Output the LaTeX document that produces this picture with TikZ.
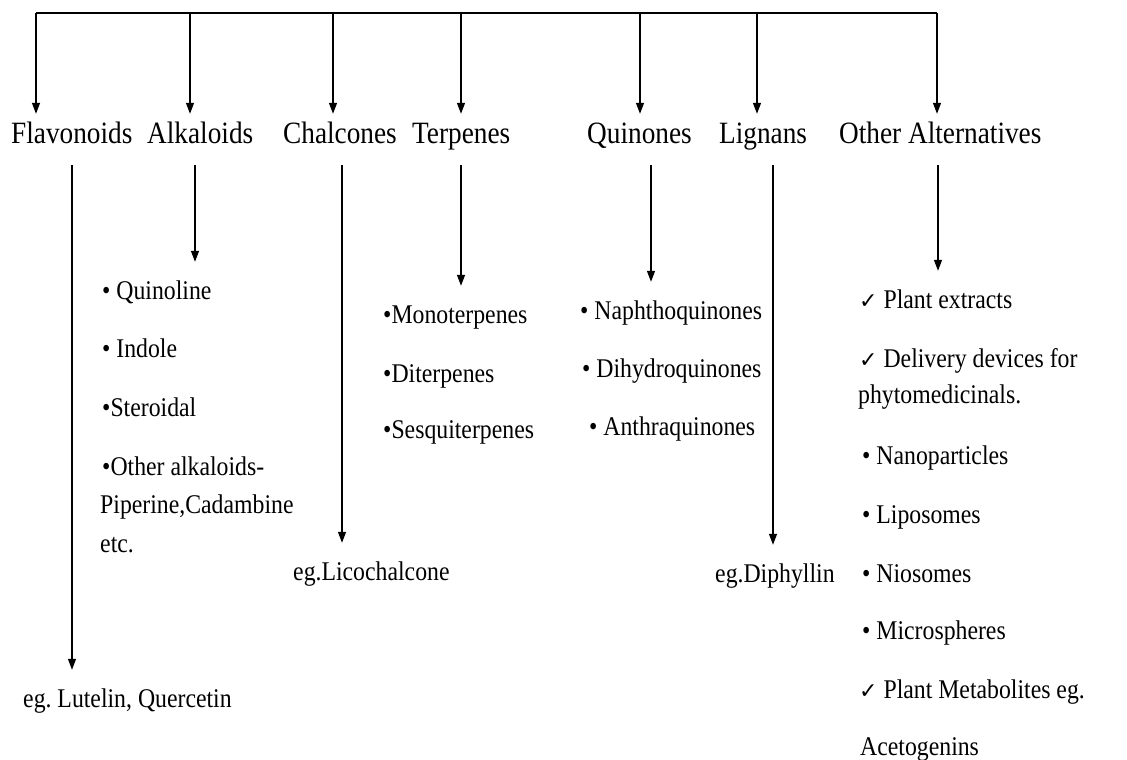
\documentclass[tikz,border=0pt]{standalone}
\usepackage{fontspec}
\setmainfont{Liberation Serif}[FakeStretch=0.88]
\newfontfamily\symfont{DejaVu Sans}
\usepackage{tikz}
\usetikzlibrary{arrows.meta, positioning, calc}
\newcommand{\chk}{{\symfont\fontsize{22}{22}\selectfont ✓}}
\frenchspacing

\begin{document}
\begin{tikzpicture}[
				x=1pt, y=-1pt,
				head/.style={anchor=base west, inner sep=0pt, font={\fontsize{31}{37}\selectfont},
					text height=22pt, text depth=7pt},
				item/.style={anchor=base west, inner sep=0pt, font={\fontsize{27}{32}\selectfont},
					text height=19pt, text depth=6pt},
				arrow/.style={-{Triangle[length=11pt, width=8pt]}, line width=1.3pt, color=black},
				drop/.style={arrow, shorten <=15pt, shorten >=18pt}
				]
				\useasboundingbox (0,0) rectangle (1127,760);
				
				% Headings
				\node[head] (flav) at (11,143) {Flavonoids};
				\node[head] (alk) at (147,143) {Alkaloids};
				\node[head] (chal) at (283,143) {Chalcones};
				\node[head] (terp) at (412,143) {Terpenes};
				\node[head] (quin) at (587,143) {Quinones};
				\node[head] (lig) at (719,143) {Lignans};
				\node[head] (other) at (839,143) {Other Alternatives};
				
				% Alkaloids
				\node[item] (alk1) at (102,299) {• Quinoline};
				\node[item] (alk2) at (102,357) {• Indole};
				\node[item] (alk3) at (102,416) {•Steroidal};
				\node[item] (alk4) at (102,475) {•Other alkaloids-};
				\node[item] (alk4b) at (100,513) {Piperine,Cadambine};
				\node[item] (alk4c) at (100,552) {etc.};
				
				% Terpenes
				\node[item] (terp1) at (383,323) {•Monoterpenes};
				\node[item] (terp2) at (383,382) {•Diterpenes};
				\node[item] (terp3) at (383,438) {•Sesquiterpenes};
				
				% Quinones
				\node[item] (quin1) at (580,319) {• Naphthoquinones};
				\node[item] (quin2) at (582,377) {• Dihydroquinones};
				\node[item] (quin3) at (589,435) {• Anthraquinones};
				
				% Examples
				\node[item] (lut) at (23,707) {eg. Lutelin, Quercetin};
				\node[item] (lico) at (293,580) {eg.Licochalcone};
				\node[item] (diph) at (715,582) {eg.Diphyllin};
				
				% Other alternatives
				\node[item] (oth1) at (859,308) {\chk\ Plant extracts};
				\node[item] (oth2) at (859,367) {\chk\ Delivery devices for};
				\node[item] (oth2b) at (858,403) {phytomedicinals.};
				\node[item] (oth3) at (862,464) {• Nanoparticles};
				\node[item] (oth4) at (862,523) {• Liposomes};
				\node[item] (oth5) at (862,582) {• Niosomes};
				\node[item] (oth6) at (862,639) {• Microspheres};
				\node[item] (oth7) at (859,698) {\chk\ Plant Metabolites eg.};
				\node[item] (oth7b) at (860,755) {Acetogenins};
				
				% Bar
				\coordinate (b1) at (36,13);
				\coordinate (b2) at (190,13);
				\coordinate (b3) at (333,13);
				\coordinate (b4) at (461,13);
				\coordinate (b5) at (640,13);
				\coordinate (b6) at (757,13);
				\coordinate (b7) at (937,13);
				\draw[line width=1.3pt] (b1) -- (b7);
				
				% Drops to headings
				\foreach \b/\h in {b1/flav, b2/alk, b3/chal, b4/terp, b5/quin, b6/lig, b7/other}
					\draw[arrow, shorten >=7pt] (\b) -- (\b |- \h.north);
				
				% Drops to lists
				\coordinate (x1) at (72,0);
				\coordinate (x2) at (195,0);
				\coordinate (x3) at (342,0);
				\coordinate (x4) at (461,0);
				\coordinate (x5) at (651,0);
				\coordinate (x6) at (773,0);
				\coordinate (x7) at (938,0);
				\foreach \x/\h/\i in {x1/flav/lut, x2/alk/alk1, x3/chal/lico, x4/terp/terp1,
					x5/quin/quin1, x6/lig/diph, x7/other/oth1}
					\draw[drop] (\h.south -| \x) -- (\x |- \i.north);
				
			\end{tikzpicture}
\end{document}
